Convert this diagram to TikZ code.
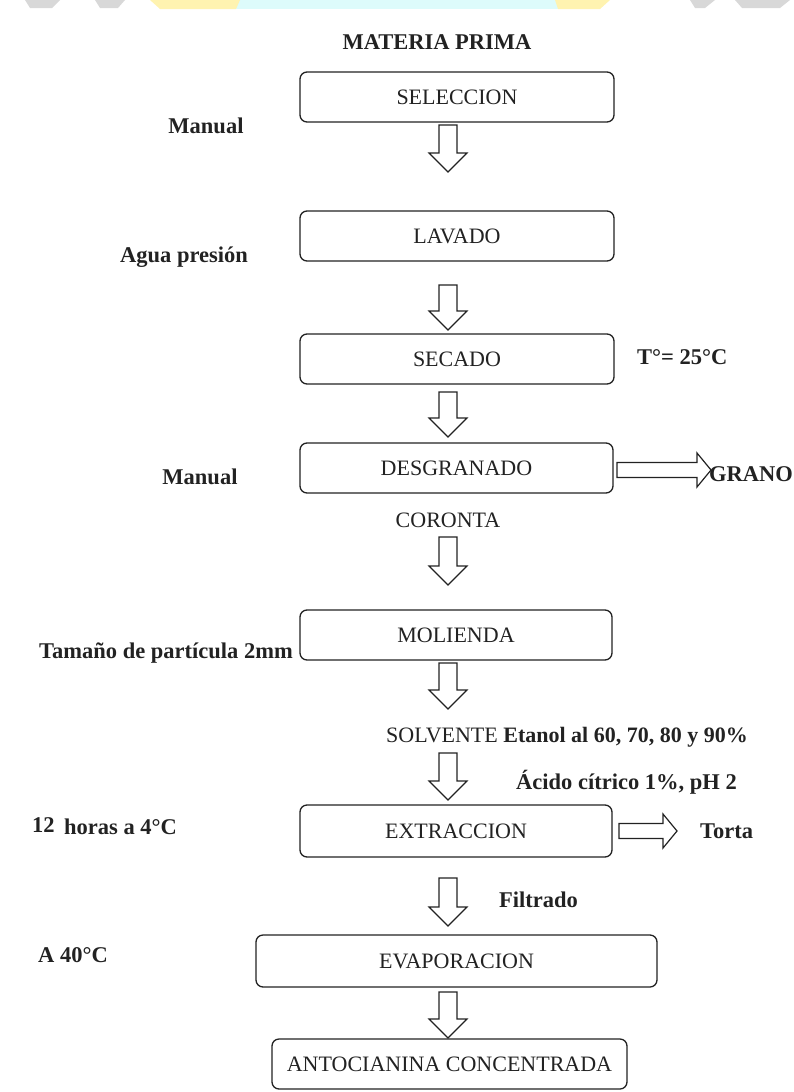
\documentclass[tikz,border=0pt]{standalone}
\usepackage{fontspec}
\setmainfont{Liberation Serif}
\usetikzlibrary{calc}
\definecolor{ink}{HTML}{222222}
\definecolor{wmcyan}{HTML}{DDFBFB}
\definecolor{wmyellow}{HTML}{FFF3B0}
\definecolor{wmgrey}{HTML}{D8D8D8}
\tikzset{
  box/.style={draw=ink, line width=1.3pt, rounded corners=7pt, fill=white,
    font=\fontsize{22}{26}\selectfont, text=ink, inner sep=0pt, anchor=center},
  lbl/.style={font=\fontsize{22.5}{26}\selectfont\bfseries, text=ink, inner sep=0pt},
  txt/.style={font=\fontsize{22}{26}\selectfont, text=ink, inner sep=0pt},
  blk/.style={draw=ink, line width=1.2pt, fill=white, line join=miter}
}
% vertical block arrow from #1 (top centre) to #2 (tip)
\newcommand{\vblock}[2]{%
  \draw[blk] let \p1=(#1), \p2=(#2) in
    (\x1-9pt,\y1) -- (\x1+9pt,\y1) -- (\x1+9pt,\y2+19pt) -- (\x1+19pt,\y2+19pt)
    -- (\x1,\y2) -- (\x1-19pt,\y2+19pt) -- (\x1-9pt,\y2+19pt) -- cycle;}
% horizontal block arrow from #1 (left centre) to #2 (tip)
\newcommand{\hblock}[2]{%
  \draw[blk] let \p1=(#1), \p2=(#2) in
    (\x1,\y1+7.5pt) -- (\x2-14pt,\y1+7.5pt) -- (\x2-14pt,\y1+17pt) -- (\x2,\y1)
    -- (\x2-14pt,\y1-17pt) -- (\x2-14pt,\y1-7.5pt) -- (\x1,\y1-7.5pt) -- cycle;}
\begin{document}
\begin{tikzpicture}[x=1pt,y=-1pt]
\useasboundingbox (0,0) rectangle (793,1092);
% faint watermark fragments at the top edge
\fill[wmcyan] (235,0) rectangle (560,9);
\fill[wmyellow] (150,0) -- (240,0) -- (236,9) -- (160,9) -- cycle;
\fill[wmyellow] (555,0) -- (610,0) -- (600,9) -- (558,9) -- cycle;
\fill[wmgrey] (25,0) -- (60,0) -- (52,8) -- (30,8) -- cycle;
\fill[wmgrey] (95,0) -- (125,0) -- (118,8) -- (100,8) -- cycle;
\fill[wmgrey] (690,0) -- (715,0) -- (705,8) -- (695,8) -- cycle;
\fill[wmgrey] (735,0) -- (790,0) -- (780,8) -- (742,8) -- cycle;

% title
\node[lbl] (mp) at (437,42) {MATERIA PRIMA};

% process boxes
\node[box, minimum width=314pt, minimum height=50pt] (sel) at (457,97) {SELECCION};
\node[box, minimum width=314pt, minimum height=50pt] (lav) at (457,236) {LAVADO};
\node[box, minimum width=314pt, minimum height=50pt] (sec) at (457,359) {SECADO};
\node[box, minimum width=313pt, minimum height=50pt] (des) at (456.5,468) {DESGRANADO};
\node[box, minimum width=312pt, minimum height=50pt] (mol) at (456,635) {MOLIENDA};
\node[box, minimum width=312pt, minimum height=52pt] (ext) at (456,831) {EXTRACCION};
\node[box, minimum width=401pt, minimum height=52pt] (eva) at (456.5,961) {EVAPORACION};
\node[box, minimum width=355pt, minimum height=50pt] (ant) at (449.5,1064) {ANTOCIANINA CONCENTRADA};

% side labels
\node[lbl] (man1) at (206,126) {Manual};
\node[lbl] (agua) at (184,257) {Agua presión};
\node[lbl, anchor=west] (temp) at (637,357) {T°= 25°C};
\node[lbl] (man2) at (200,477) {Manual};
\node[lbl, anchor=west] (grano) at (709,474) {GRANO};
\node[txt] (cor) at (448,520) {CORONTA};
\node[lbl] (tam) at (166,653) {Tamaño de partícula 2mm};
\node[txt, anchor=west] (solv) at (386,737) {SOLVENTE \textbf{Etanol al 60, 70, 80 y 90\%}};
\node[lbl, anchor=west] (acido) at (516,782) {Ácido cítrico 1\%, pH 2};
\node[lbl, anchor=west] (doce) at (32,825) {12};
\node[lbl, anchor=west] (horas) at (64,827) {horas a 4°C};
\node[lbl, anchor=west] (torta) at (700,831) {Torta};
\node[lbl, anchor=west] (filt) at (499,900) {Filtrado};
\node[lbl, anchor=west] (a40) at (38,955) {A 40°C};

% arrow end points
\coordinate (a1s) at (448,125); \coordinate (a1e) at (448,172);
\coordinate (a2s) at (448,285); \coordinate (a2e) at (448,330);
\coordinate (a3s) at (448,392); \coordinate (a3e) at (448,437);
\coordinate (a4s) at (448,537); \coordinate (a4e) at (448,585);
\coordinate (a5s) at (448,663); \coordinate (a5e) at (448,709);
\coordinate (a6s) at (448,753); \coordinate (a6e) at (448,800);
\coordinate (a7s) at (448,878); \coordinate (a7e) at (448,926);
\coordinate (a8s) at (448,992); \coordinate (a8e) at (448,1038);
\coordinate (h1s) at (617,470); \coordinate (h1e) at (711,470);
\coordinate (h2s) at (619,831); \coordinate (h2e) at (677,831);

\vblock{a1s}{a1e}
\vblock{a2s}{a2e}
\vblock{a3s}{a3e}
\vblock{a4s}{a4e}
\vblock{a5s}{a5e}
\vblock{a6s}{a6e}
\vblock{a7s}{a7e}
\vblock{a8s}{a8e}
\hblock{h1s}{h1e}
\hblock{h2s}{h2e}
\end{tikzpicture}
\end{document}
